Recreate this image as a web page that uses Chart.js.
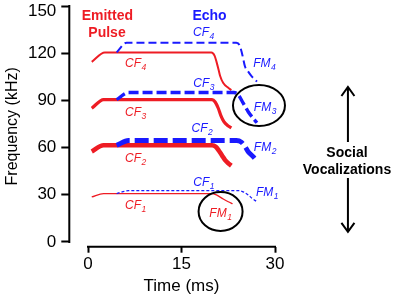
<!DOCTYPE html>
<html>
<head>
<meta charset="utf-8">
<script src="https://cdn.jsdelivr.net/npm/chart.js@4"></script>
<style>html,body{margin:0;padding:0;background:#fff}canvas{display:block}</style>
</head>
<body>
<canvas id="c" width="397" height="297"></canvas>
<script>
// ---- data (time in ms, frequency in kHz) ----
const xTicks = [0, 15, 30];
const yTicks = [0, 30, 60, 90, 120, 150];

const pulseT4 = [0.6, 2.7, 19.8, 20.3, 20.65, 20.95, 21.2, 21.7, 22.5, 23.0];
const pulseF4 = [114.5, 120.5, 120.5, 118.5, 114, 109.5, 105.5, 101, 98, 96.5];
const pulseT3 = [0.6, 2.5, 19.9, 20.4, 20.9, 21.3, 21.8, 22.4, 23.0];
const pulseF3 = [85, 90.5, 90.5, 89, 85, 80.5, 76.5, 74, 72.5];
const pulseT2 = [0.6, 2.5, 19.9, 20.5, 21.0, 21.5, 22.0, 22.5, 23.0];
const pulseF2 = [57.5, 61.5, 61.5, 60.5, 58, 55, 52, 50, 48.5];
const pulseT1 = [0.6, 2.5, 19.8, 20.6, 21.7, 22.5, 23.2];
const pulseF1 = [28.6, 30.8, 30.8, 29.9, 27.3, 25.6, 24.3];

const echoT4 = [4.6, 6.2, 23.8, 24.3, 24.7, 25.2, 25.7, 26.3, 27.1];
const echoF4 = [120.5, 126.7, 126.7, 125.2, 120, 111.4, 108.3, 105.1, 101.9];
const echoT3 = [4.6, 6.5, 23.4, 24.1, 24.9, 25.7, 26.5, 27.1];
const echoF3 = [90.5, 95, 95, 93.5, 88.2, 82.8, 78.6, 75.8];
const echoT2 = [4.6, 6.5, 23.8, 24.6, 25.2, 25.7, 26.5, 27.2];
const echoF2 = [61.5, 64.5, 64.5, 63.5, 60.6, 57.4, 54.2, 51];
const echoT1 = [4.6, 6.5, 24.2, 25.0, 25.7, 26.3, 27.1];
const echoF1 = [30.8, 32.6, 32.6, 31.7, 29.9, 27.8, 25.6];

// ---- styling ----
const RED = '#ee1c24', BLUE = '#1a1aff', FONT = '"Liberation Sans", Arial, Helvetica, sans-serif';
const pts = (ts, fs) => ts.map((t, i) => ({x: t, y: fs[i]}));
function pulse(ts, fs, w) {
  return {data: pts(ts, fs), borderColor: RED, borderWidth: w, order: 2, cubicInterpolationMode: 'monotone', pointRadius: 0, fill: false};
}
function echo(ts, fs, w, dash) {
  return {data: pts(ts, fs), borderColor: BLUE, borderWidth: w, borderDash: dash, order: 1, cubicInterpolationMode: 'monotone', pointRadius: 0, fill: false};
}
const datasets = [
  echo(echoT4, echoF4, 2, [8, 4]),
  echo(echoT3, echoF3, 3.4, [10, 4]),
  echo(echoT2, echoF2, 4.8, [14, 5]),
  echo(echoT1, echoF1, 1.3, [3, 2]),
  pulse(pulseT4, pulseF4, 2),
  pulse(pulseT3, pulseF3, 3.2),
  pulse(pulseT2, pulseF2, 4.6),
  pulse(pulseT1, pulseF1, 1.3)
];

// ---- annotations (data coordinates) ----
const subLabels = [
  ['CF', '4', 5.94, 113.8, RED], ['CF', '3', 5.94, 82.6, RED], ['CF', '2', 5.94, 53.4, RED], ['CF', '1', 5.94, 23.5, RED],
  ['CF', '4', 16.85, 133.5, BLUE], ['CF', '3', 16.9, 101.1, BLUE], ['CF', '2', 16.6, 72.5, BLUE], ['CF', '1', 16.9, 38.1, BLUE],
  ['FM', '4', 26.5, 114.1, BLUE], ['FM', '3', 26.6, 85.8, BLUE], ['FM', '2', 26.6, 60.4, BLUE], ['FM', '1', 26.95, 31.8, BLUE],
  ['FM', '1', 19.46, 18.4, RED]
];
const boldLabels = [
  ['Emitted', 3.1, 144.3, RED], ['Pulse', 3.05, 133.4, RED], ['Echo', 19.5, 144.4, BLUE],
  ['Social', 41.55, 57.2, '#000'], ['Vocalizations', 41.55, 46.4, '#000']
];

const decor = {
  id: 'decor',
  afterDraw(chart) {
    const {ctx, chartArea: ca} = chart;
    const xs = chart.scales.x, ys = chart.scales.y;
    const X = v => xs.getPixelForValue(v), Y = v => ys.getPixelForValue(v);
    ctx.save();
    // axis lines (offset style)
    ctx.strokeStyle = '#000'; ctx.lineWidth = 2; ctx.lineCap = 'square';
    ctx.beginPath();
    ctx.moveTo(ca.left, Y(yTicks[0])); ctx.lineTo(ca.left, Y(yTicks[yTicks.length - 1]));
    ctx.moveTo(X(xTicks[0]), ca.bottom); ctx.lineTo(X(xTicks[xTicks.length - 1]), ca.bottom);
    ctx.stroke();
    ctx.lineCap = 'butt';
    // x title
    ctx.fillStyle = '#000'; ctx.font = '17px ' + FONT; ctx.textAlign = 'center'; ctx.textBaseline = 'alphabetic';
    ctx.fillText('Time (ms)', X(15), Y(-31.2));
    // bold labels
    ctx.font = 'bold 14px ' + FONT;
    boldLabels.forEach(([s, t, f, c]) => { ctx.fillStyle = c; ctx.fillText(s, X(t), Y(f) + 5); });
    // subscript labels
    ctx.textAlign = 'left';
    subLabels.forEach(([m, s, t, f, c]) => {
      ctx.fillStyle = c;
      ctx.font = 'italic 12px ' + FONT;
      const x0 = X(t), y0 = Y(f) + 4.3;
      ctx.fillText(m, x0, y0);
      const w = ctx.measureText(m).width;
      ctx.font = 'italic 8.5px ' + FONT;
      ctx.fillText(s, x0 + w + 0.5, y0 + 3);
    });
    // ellipses
    ctx.strokeStyle = '#000'; ctx.lineWidth = 2;
    ctx.beginPath(); ctx.ellipse(X(27.43), Y(86.7), 26, 20.5, 0, 0, Math.PI * 2); ctx.stroke();
    ctx.beginPath(); ctx.ellipse(X(21.27), Y(19.4), 22, 19.5, 0, 0, Math.PI * 2); ctx.stroke();
    // arrows
    const ax = X(41.7);
    ctx.beginPath();
    ctx.moveTo(ax, Y(63.6)); ctx.lineTo(ax, Y(98.5));
    ctx.moveTo(ax - 6.5, Y(98.5) + 9); ctx.lineTo(ax, Y(98.5)); ctx.lineTo(ax + 6.5, Y(98.5) + 9);
    ctx.moveTo(ax, Y(40.7)); ctx.lineTo(ax, Y(6.4));
    ctx.moveTo(ax - 6.5, Y(6.4) - 9); ctx.lineTo(ax, Y(6.4)); ctx.lineTo(ax + 6.5, Y(6.4) - 9);
    ctx.stroke();
    ctx.restore();
  }
};

const lastY = yTicks.length - 1;
new Chart(document.getElementById('c'), {
  type: 'line',
  data: {datasets},
  options: {
    responsive: false,
    animation: false,
    layout: {padding: {top: 6, right: 122, left: 0, bottom: 0}},
    plugins: {legend: {display: false}, tooltip: {enabled: false}},
    elements: {point: {radius: 0}},
    scales: {
      x: {
        type: 'linear', min: -3, max: 30,
        afterBuildTicks: s => { s.ticks = xTicks.map(v => ({value: v})); },
        afterFit: s => { s.height = 50.3; s.paddingLeft = 0; s.paddingRight = 0; },
        border: {display: false},
        grid: {drawOnChartArea: false, drawTicks: true, tickLength: 6, tickWidth: 2, tickColor: '#000'},
        ticks: {color: '#000', font: {size: 17, family: FONT}, padding: 1, maxRotation: 0, autoSkip: false}
      },
      y: {
        type: 'linear', min: -3, max: 150,
        afterBuildTicks: s => { s.ticks = yTicks.map(v => ({value: v})); },
        afterFit: s => { s.width = 69.3; s.paddingTop = 0; s.paddingBottom = 0; },
        border: {display: false},
        grid: {drawOnChartArea: false, drawTicks: true, tickLength: 8, tickWidth: 2, tickColor: '#000'},
        ticks: {
          color: '#000', padding: 5, autoSkip: false,
          callback: (v, i) => i === lastY ? ['', String(v)] : String(v),
          font: c => (c.index === lastY ? {size: 17, family: FONT, lineHeight: 0.6} : {size: 17, family: FONT})
        },
        title: {display: true, text: 'Frequency (kHz)', color: '#000', font: {size: 16, family: FONT}, padding: {top: 3, bottom: 0}}
      }
    }
  },
  plugins: [decor]
});
</script>
</body>
</html>
